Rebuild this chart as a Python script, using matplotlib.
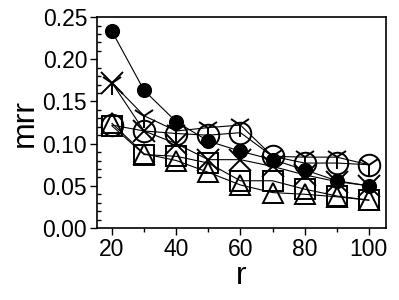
import matplotlib
matplotlib.use('Agg')
import matplotlib.pyplot as plt
from matplotlib.ticker import MultipleLocator

R_VALUES = [20, 30, 40, 50, 60, 70, 80, 90, 100]
MRR_FILLED = [0.233, 0.163, 0.126, 0.103, 0.091, 0.081, 0.069, 0.056, 0.050]
MRR_CROSS = [0.172, 0.115, 0.100, 0.081, 0.081, 0.073, 0.063, 0.055, 0.050]
MRR_CIRCLE = [0.122, 0.115, 0.112, 0.110, 0.113, 0.085, 0.077, 0.077, 0.075]
MRR_TRI = [0.172, 0.133, 0.115, 0.119, 0.122, 0.085, 0.084, 0.084, 0.075]
MRR_SQUARE = [0.121, 0.087, 0.085, 0.077, 0.056, 0.056, 0.046, 0.038, 0.033]
MRR_TRIANGLE = [0.124, 0.088, 0.080, 0.066, 0.051, 0.042, 0.040, 0.037, 0.033]


def plot_mrr():
    plt.rcParams['font.family'] = ['Liberation Sans', 'DejaVu Sans']
    fig = plt.figure(figsize=(3.99, 3.0), dpi=100)
    ax = fig.add_axes([0.243, 0.24, 0.724, 0.703])
    line = dict(color='black', linewidth=0.8, markeredgewidth=1.4)
    ax.plot(R_VALUES, MRR_SQUARE, marker='s', markersize=14.5, markerfacecolor='none', markeredgecolor='black', **line)
    ax.plot(R_VALUES, MRR_TRIANGLE, marker='^', markersize=15, markerfacecolor='none', markeredgecolor='black', **line)
    ax.plot(R_VALUES, MRR_CIRCLE, marker='o', markersize=15.5, markerfacecolor='none', markeredgecolor='black', **line)
    ax.plot(R_VALUES, MRR_TRI, marker='1', markersize=17, markeredgecolor='black', **line)
    ax.plot(R_VALUES, MRR_CROSS, marker='x', markersize=15.5, markeredgecolor='black', **line)
    ax.plot(R_VALUES, MRR_FILLED, marker='o', markersize=9.5, markerfacecolor='black', markeredgecolor='black', **line)
    ax.set_xlim(15.3, 105.3)
    ax.set_ylim(0, 0.25)
    ax.xaxis.set_major_locator(MultipleLocator(20))
    ax.xaxis.set_minor_locator(MultipleLocator(10))
    ax.yaxis.set_major_locator(MultipleLocator(0.05))
    ax.yaxis.set_minor_locator(MultipleLocator(0.01))
    ax.set_yticklabels([f'{v:.2f}' for v in ax.get_yticks()])
    ax.tick_params(axis='both', which='major', direction='out', length=5, width=1, labelsize=16.5, pad=2)
    ax.tick_params(axis='x', which='minor', direction='out', length=3, width=1)
    ax.tick_params(axis='y', which='minor', direction='in', length=3, width=1)
    for spine in ax.spines.values():
        spine.set_linewidth(1.2)
    ax.set_xlabel('r', fontsize=23, labelpad=0)
    ax.set_ylabel('mrr', fontsize=23, labelpad=2)
    fig.savefig('out.png', dpi=100)


if __name__ == '__main__':
    plot_mrr()
